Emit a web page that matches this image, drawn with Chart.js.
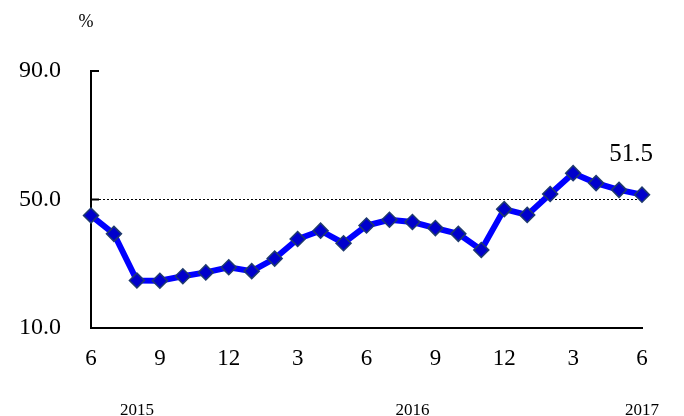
<!DOCTYPE html>
<html>
<head>
<meta charset="utf-8">
<script src="https://cdn.jsdelivr.net/npm/chart.js@4/dist/chart.umd.min.js"></script>
<style>
  html, body { margin: 0; padding: 0; background: #fff; }
  #wrap { width: 684px; height: 416px; }
</style>
</head>
<body>
<div id="wrap"><canvas id="c" width="684" height="416"></canvas></div>
<script>
// Months from June 2015 to June 2017
const months = [6,7,8,9,10,11,12,1,2,3,4,5,6,7,8,9,10,11,12,1,2,3,4,5,6];
// Year labels under the month axis
const yearLabels = ['', '', '2015', '', '', '', '', '', '', '', '', '', '', '', '2016', '', '', '', '', '', '', '', '', '', '2017'];
// Series values (%)
const values = [45.0, 39.3, 24.8, 24.7, 26.1, 27.3, 28.9, 27.7, 31.6, 37.7, 40.3, 36.4, 41.9, 43.7, 43.0, 41.1, 39.3, 34.3, 47.0, 45.2, 51.7, 58.2, 55.1, 53.0, 51.5];
const yTicks = [10, 50, 90];
const refValue = 50;
const unitLabel = '%';
const lastLabel = '51.5';

const serif = "Liberation Serif";

const decor = {
  id: 'decor',
  beforeDatasetsDraw(chart) {
    const ctx = chart.ctx, y = chart.scales.y, a = chart.chartArea;
    const py = y.getPixelForValue(refValue);
    ctx.save();
    ctx.strokeStyle = '#000';
    ctx.lineWidth = 1;
    ctx.setLineDash([2, 2]);
    ctx.beginPath();
    ctx.moveTo(a.left, py);
    ctx.lineTo(a.right, py);
    ctx.stroke();
    ctx.setLineDash([]);
    ctx.lineWidth = 2;
    [90, 50].forEach(v => {
      const p = y.getPixelForValue(v);
      ctx.beginPath();
      ctx.moveTo(a.left, p);
      ctx.lineTo(a.left + 8, p);
      ctx.stroke();
    });
    ctx.restore();
  },
  afterDraw(chart) {
    const ctx = chart.ctx, a = chart.chartArea;
    ctx.save();
    ctx.fillStyle = '#000';
    ctx.textAlign = 'center';
    ctx.textBaseline = 'middle';
    ctx.font = '18px "Liberation Serif"';
    ctx.fillText(unitLabel, a.left - 5, 22);
    const meta = chart.getDatasetMeta(0);
    const pt = meta.data[meta.data.length - 1];
    ctx.font = '25px "Liberation Serif"';
    ctx.fillText(lastLabel, pt.x - 11, pt.y - 40);
    ctx.restore();
  }
};

new Chart(document.getElementById('c'), {
  type: 'line',
  data: {
    labels: months,
    datasets: [{
      data: values,
      borderColor: '#0000FF',
      borderWidth: 6,
      tension: 0,
      pointStyle: 'rectRot',
      pointRadius: 7.5,
      pointBackgroundColor: '#0000CC',
      pointBorderColor: '#1F3A6E',
      pointBorderWidth: 1.5
    }]
  },
  options: {
    responsive: false,
    animation: false,
    plugins: { legend: { display: false }, tooltip: { enabled: false } },
    layout: { padding: { top: 71, right: 42, left: 0, bottom: 0 } },
    scales: {
      x: {
        type: 'category',
        offset: false,
        grid: { display: false },
        border: { color: '#000', width: 2 },
        ticks: {
          autoSkip: false, maxRotation: 0, minRotation: 0,
          color: '#000', padding: 9,
          font: { family: serif, size: 23 },
          callback: (v, i) => (i % 3 === 0 ? String(months[i]) : '')
        },
        afterFit: s => { s.height = 45; }
      },
      x2: {
        type: 'category',
        position: 'bottom',
        offset: false,
        grid: { display: false },
        border: { display: false },
        ticks: {
          autoSkip: false, maxRotation: 0, minRotation: 0,
          color: '#000', padding: 19,
          font: { family: serif, size: 17 },
          callback: (v, i) => yearLabels[i]
        },
        afterFit: s => { s.height = 43; }
      },
      y: {
        min: 10, max: 90,
        grid: { display: false },
        border: { color: '#000', width: 2 },
        afterBuildTicks: s => { s.ticks = yTicks.map(v => ({ value: v })); },
        ticks: {
          color: '#000', padding: 22,
          font: { family: serif, size: 24 },
          callback: v => Number(v).toFixed(1)
        },
        afterFit: s => { s.width = 91; }
      }
    }
  },
  plugins: [decor]
});
</script>
</body>
</html>
